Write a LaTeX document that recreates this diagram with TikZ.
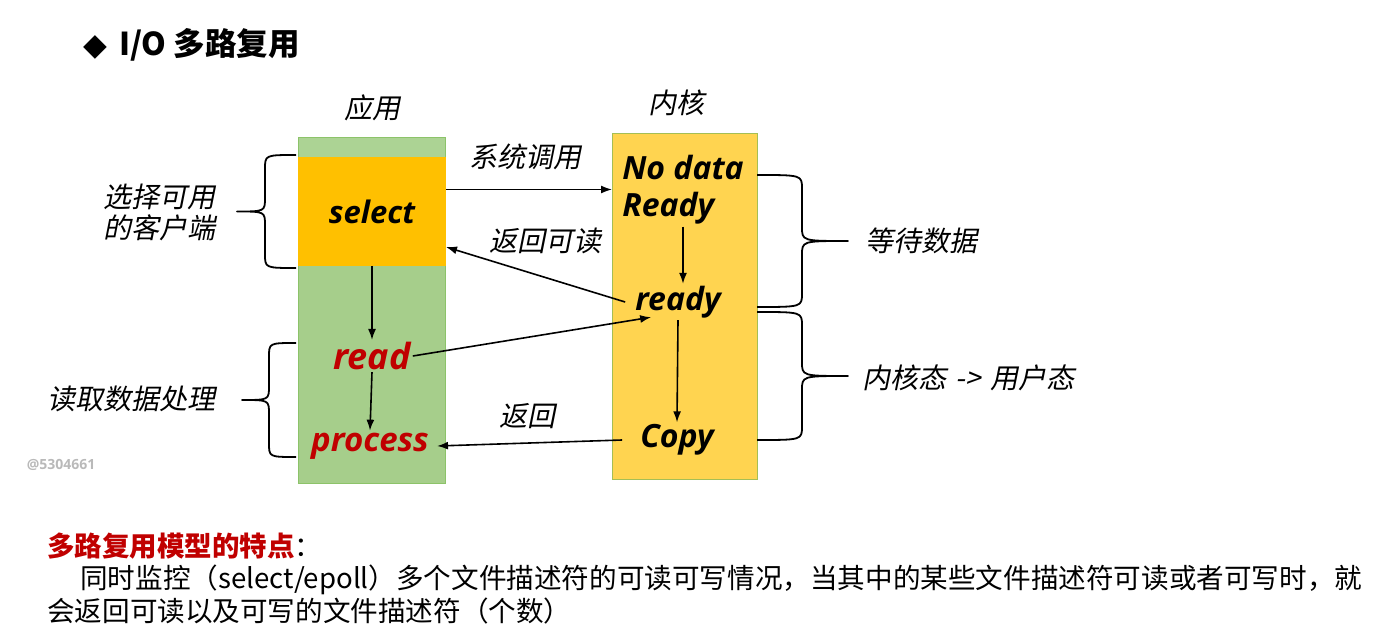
\documentclass[tikz,border=0pt]{standalone}
\usepackage{fontspec}
\setmainfont{Open Sans}
\newfontfamily\cjk{Noto Sans CJK SC}
\newfontfamily\cjkit[FakeSlant=0.2]{Noto Sans CJK SC}
\newfontfamily\labfont{Open Sans}
\newfontfamily\dv{DejaVu Sans}
\usetikzlibrary{arrows.meta}

\definecolor{appgreen}{RGB}{166,206,139}
\definecolor{appcapgreen}{RGB}{172,211,148}
\definecolor{appline}{RGB}{140,195,105}
\definecolor{selorange}{RGB}{255,192,0}
\definecolor{kernyellow}{RGB}{255,212,80}
\definecolor{kernline}{RGB}{165,190,85}
\definecolor{darkred}{RGB}{192,0,0}
\definecolor{markgray}{RGB}{185,185,185}

% curly brace: #1 end x, #2 top y, #3 bottom y, #4 bar x, #5 tip x
\newcommand\curlybrace[5]{%
  \draw[brc] (#1,#2) .. controls (#4,#2) .. (#4,#2+14)
    -- (#4,{(#2+#3)/2-14}) .. controls (#4,{(#2+#3)/2}) .. (#5,{(#2+#3)/2})
    .. controls (#4,{(#2+#3)/2}) .. (#4,{(#2+#3)/2+14})
    -- (#4,#3-14) .. controls (#4,#3) .. (#1,#3);}

\begin{document}
\begin{tikzpicture}[x=1pt,y=-1pt,
  colbox/.style={rectangle, inner sep=0pt, line width=1pt},
  step word/.style={font=\labfont\bfseries\itshape\fontsize{32}{38}\selectfont, inner sep=2pt},
  redword/.style={step word, text=darkred},
  cjklabel/.style={font=\cjkit\fontsize{28}{31}\selectfont, inner sep=0pt},
  arr/.style={-{Latex[length=11pt,width=8pt]}, line width=1.6pt},
  brc/.style={line width=1.8pt, line join=round}]
\useasboundingbox (0,0) rectangle (1382,636);

% heading
\node[anchor=west, inner sep=0pt] (head) at (83,45)
  {{\dv\fontsize{31}{31}\selectfont ◆}\hspace{12pt}{\cjk\bfseries\fontsize{31.5}{34}\selectfont I/O 多路复用}};

% application column
\node[colbox, fill=appgreen, draw=appline, minimum width=147pt, minimum height=346pt, anchor=north west] (app) at (298,137) {};
\node[colbox, fill=appcapgreen, draw=appline, minimum width=147pt, minimum height=20pt, anchor=north west] (appcap) at (298,137) {};
\node[colbox, fill=selorange, draw=selorange, minimum width=147pt, minimum height=108pt, anchor=north west,
      font=\labfont\bfseries\itshape\fontsize{31}{36}\selectfont] (selbox) at (298,157) {select};
\node[cjklabel] (applbl) at (372,108) {应用};

\node[redword, font=\labfont\bfseries\itshape\fontsize{36}{40}\selectfont] (read) at (372,356) {read};
\node[redword, font=\labfont\bfseries\itshape\fontsize{33}{38}\selectfont] (process) at (370,446) {process};

% kernel column
\node[colbox, fill=kernyellow, draw=kernline, minimum width=145pt, minimum height=346pt, anchor=north west] (kern) at (612,133) {};
\node[cjklabel] (kernlbl) at (676,103) {内核};

\node[step word, align=left, font=\labfont\bfseries\itshape\fontsize{32}{37}\selectfont] (nodata) at (683,190) {No data\\Ready};
\node[step word] (ready) at (678,302) {ready};
\node[step word] (copy) at (677,440) {Copy};

% flow inside the columns
\draw[arr] (selbox.south) -- (read.north);
\draw[arr] (read.south) -- (process.north);
\draw[arr] (nodata.south) -- (nodata.south |- ready.north);
\draw[arr] (ready.south) -- (copy.north);

% calls between application and kernel
\draw[arr] ([yshift=22pt]selbox.east) -- ([yshift=22pt]selbox.east -| kern.west);
\node[cjklabel] (syscall) at (525,157) {系统调用};

\draw[arr] ([xshift=-8pt]ready.west) -- ([yshift=19pt]selbox.south east);
\node[cjklabel] (retread) at (545,241) {返回可读};

\draw[arr] (read.east) -- ([xshift=18pt,yshift=3pt]ready.south west);

\draw[arr] ([xshift=-16pt]copy.west) -- ([xshift=6pt]process.east);
\node[cjklabel] (ret) at (527,416) {返回};

% braces and their notes
\curlybrace{296}{155}{268}{265}{237}
\node[cjklabel, align=right, anchor=east] (pick) at (216,212) {选择可用\\的客户端};

\curlybrace{296}{343}{457}{269}{242}
\node[cjklabel, anchor=east] (readproc) at (216,399) {读取数据处理};

\curlybrace{757}{175}{307}{802}{848}
\node[cjklabel, anchor=west] (wait) at (865,241) {等待数据};

\curlybrace{757}{312}{440}{802}{848}
\node[cjklabel, anchor=west] (k2u) at (862,378) {内核态\,\,->\,\,用户态};

% mark
\node[text=markgray, font=\labfont\bfseries\fontsize{14}{14}\selectfont, inner sep=0pt] (mark) at (61,465) {@5304661};

% notes below
\node[anchor=west, inner sep=0pt, font=\cjk\fontsize{27.5}{30}\selectfont] (feat) at (47,546)
  {{\bfseries\color{darkred}多路复用模型的特点}：};
\node[anchor=west, inner sep=0pt, font=\cjk\fontsize{27.6}{30}\selectfont] (desc1) at (80,580)
  {同时监控（select/epoll）多个文件描述符的可读可写情况，当其中的某些文件描述符可读或者可写时，就};
\node[anchor=west, inner sep=0pt, font=\cjk\fontsize{27.6}{30}\selectfont] (desc2) at (47,611)
  {会返回可读以及可写的文件描述符（个数）};
\end{tikzpicture}
\end{document}
